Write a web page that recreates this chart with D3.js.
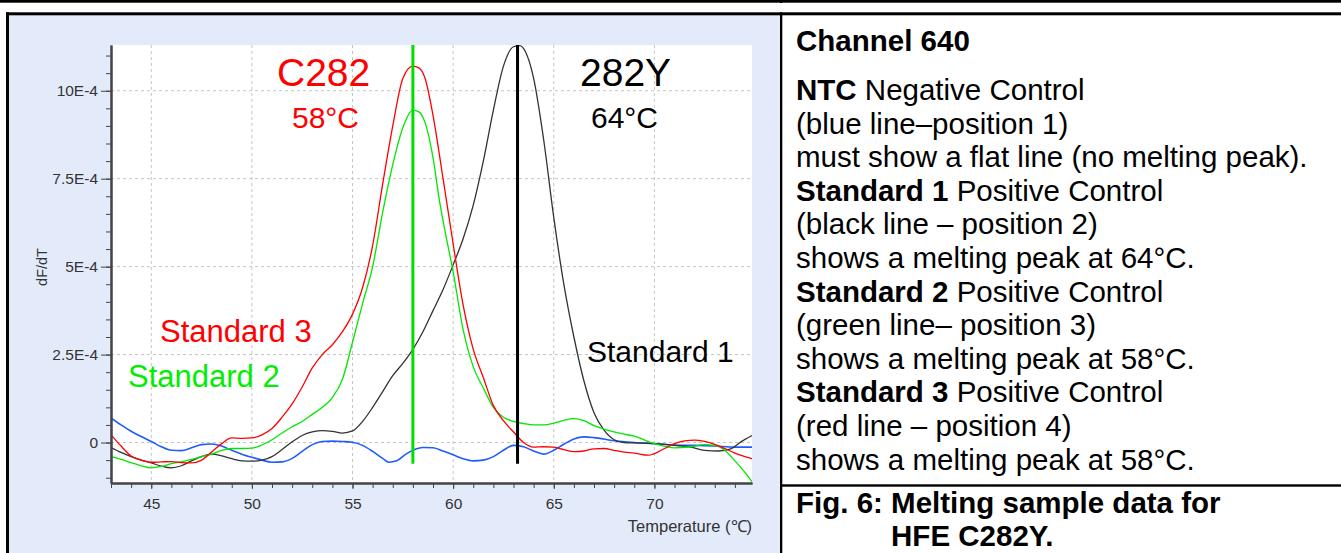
<!DOCTYPE html>
<html>
<head>
<meta charset="utf-8">
<script src="https://cdn.jsdelivr.net/npm/d3@7"></script>
<style>
  html, body { margin: 0; padding: 0; background: #fff; }
  svg { display: block; font-family: "Liberation Sans", Arial, sans-serif; }
</style>
</head>
<body>
<svg id="fig" width="1341" height="553"></svg>
<script>
// values in units of 1E-4 (dF/dT), temperature in degC
const ntc = [
  [43.0, 0.70], [43.5, 0.50], [44.0, 0.32], [44.5, 0.17], [45.0, 0.03], [45.5, -0.12],
  [46.0, -0.22], [46.5, -0.23], [47.0, -0.15], [47.5, -0.06], [48.0, -0.04], [48.5, -0.10],
  [49.0, -0.22], [49.5, -0.33], [50.0, -0.42], [50.5, -0.50], [51.0, -0.56], [51.5, -0.55],
  [52.0, -0.45], [52.5, -0.25], [53.0, -0.06], [53.5, 0.03], [54.0, 0.04], [54.5, 0.03],
  [55.0, 0.01], [55.5, -0.08], [56.0, -0.25], [56.5, -0.45], [56.8, -0.56], [57.2, -0.52],
  [57.6, -0.35], [58.0, -0.22], [58.5, -0.14], [59.0, -0.15], [59.5, -0.24], [60.0, -0.35],
  [60.5, -0.46], [61.0, -0.52], [61.5, -0.50], [62.0, -0.40], [62.5, -0.22], [63.0, -0.08],
  [63.5, -0.12], [64.0, -0.24], [64.5, -0.33], [65.0, -0.22], [65.5, -0.05], [66.0, 0.10],
  [66.5, 0.16], [67.0, 0.14], [68.0, 0.05], [69.0, 0.00], [70.0, -0.03], [71.0, -0.07],
  [72.0, -0.08], [73.0, -0.10], [74.0, -0.13], [74.85, -0.13]
];

const standard1 = [
  [43.0, -0.14], [43.5, -0.28], [44.0, -0.40], [44.5, -0.50], [45.0, -0.58], [45.5, -0.67],
  [46.0, -0.72], [46.5, -0.66], [47.0, -0.52], [47.5, -0.40], [48.0, -0.33], [48.5, -0.38],
  [49.0, -0.46], [49.5, -0.52], [50.0, -0.53], [50.5, -0.50], [51.0, -0.40], [51.5, -0.20],
  [52.0, 0.02], [52.5, 0.20], [53.0, 0.30], [53.5, 0.34], [54.0, 0.32], [54.5, 0.27],
  [55.0, 0.33], [55.5, 0.60], [56.0, 1.00], [56.5, 1.45], [57.0, 1.90], [57.5, 2.25],
  [58.0, 2.65], [58.5, 3.15], [59.0, 3.75], [59.5, 4.35], [60.0, 5.05], [60.5, 5.80],
  [61.0, 6.75], [61.5, 8.00], [62.0, 9.45], [62.5, 10.70], [63.0, 11.25], [63.3, 11.28],
  [63.6, 11.10], [64.0, 10.35], [64.5, 8.60], [65.0, 6.40], [65.5, 4.50], [66.0, 3.00],
  [66.5, 1.75], [67.0, 0.85], [67.5, 0.35], [68.0, 0.08], [68.5, 0.00], [69.0, -0.01],
  [70.0, -0.03], [71.0, -0.08], [71.8, -0.13], [72.5, -0.22], [73.2, -0.24], [73.8, -0.18],
  [74.3, 0.02], [74.85, 0.20]
];

const standard2 = [
  [43.0, -0.40], [43.5, -0.48], [44.0, -0.57], [44.5, -0.66], [45.0, -0.72], [45.5, -0.68],
  [46.0, -0.60], [46.5, -0.55], [47.0, -0.48], [47.5, -0.40], [48.0, -0.33], [48.5, -0.22],
  [49.0, -0.17], [49.5, -0.17], [50.0, -0.16], [50.5, -0.07], [51.0, 0.08], [51.5, 0.27],
  [52.0, 0.45], [52.5, 0.60], [53.0, 0.80], [53.5, 1.00], [54.0, 1.28], [54.5, 1.80],
  [55.0, 2.85], [55.5, 3.95], [56.0, 5.00], [56.5, 6.55], [57.0, 7.90], [57.5, 8.95],
  [58.0, 9.45], [58.3, 9.40], [58.6, 9.10], [59.0, 8.10], [59.3, 6.95], [59.6, 6.00],
  [60.0, 4.85], [60.5, 3.20], [61.0, 2.15], [61.5, 1.55], [62.0, 1.00], [62.5, 0.72],
  [63.0, 0.60], [63.5, 0.54], [64.0, 0.50], [64.5, 0.50], [65.0, 0.55], [65.5, 0.63],
  [66.0, 0.68], [66.5, 0.62], [67.0, 0.48], [67.5, 0.38], [68.0, 0.30], [68.5, 0.24],
  [69.0, 0.18], [70.0, -0.03], [71.0, -0.15], [71.8, -0.12], [72.5, -0.06], [73.0, -0.08],
  [73.5, -0.22], [74.0, -0.52], [74.5, -0.85], [74.85, -1.12]
];

const standard3 = [
  [43.0, 0.22], [43.5, -0.10], [44.0, -0.38], [44.5, -0.50], [45.0, -0.56], [45.5, -0.55],
  [46.0, -0.54], [46.5, -0.57], [47.0, -0.58], [47.5, -0.50], [48.0, -0.27], [48.5, -0.03],
  [49.0, 0.13], [49.5, 0.12], [50.0, 0.13], [50.5, 0.22], [51.0, 0.40], [51.5, 0.72],
  [52.0, 1.10], [52.5, 1.58], [53.0, 2.12], [53.5, 2.50], [54.0, 2.78], [54.5, 3.15],
  [55.0, 3.65], [55.5, 4.40], [56.0, 5.60], [56.5, 7.35], [57.0, 9.00], [57.5, 10.35],
  [58.0, 10.70], [58.3, 10.65], [58.6, 10.36], [59.0, 9.30], [59.5, 7.50], [60.0, 5.65],
  [60.5, 3.90], [61.0, 2.65], [61.5, 1.85], [62.0, 1.05], [62.5, 0.62], [63.0, 0.30],
  [63.5, 0.00], [64.0, -0.13], [64.5, -0.12], [65.0, -0.13], [65.5, -0.20], [66.0, -0.26],
  [66.5, -0.24], [67.0, -0.18], [67.5, -0.17], [68.0, -0.22], [68.5, -0.27], [69.0, -0.30],
  [69.7, -0.36], [70.5, -0.17], [71.0, -0.03], [71.5, 0.05], [72.0, 0.07], [72.5, 0.03],
  [73.0, -0.05], [73.5, -0.17], [74.0, -0.30], [74.85, -0.46]
];

const xMajorTicks = [45, 50, 55, 60, 65, 70];
const yMajorTicks = [0, 2.5, 5, 7.5, 10];
const yTickLabels = ["0", "2.5E-4", "5E-4", "7.5E-4", "10E-4"];
const peakTemps = [58, 63.2];

const svg = d3.select('svg#fig');

// frame / table lines
svg.append('rect').attr('x', 9).attr('y', 15).attr('width', 771).attr('height', 538).attr('fill', '#E3EBFB');
svg.append('rect').attr('x', 0).attr('y', 0).attr('width', 1341).attr('height', 2.7).attr('fill', '#000');
svg.append('rect').attr('x', 780).attr('y', 0).attr('width', 2.3).attr('height', 3).attr('fill', '#000');
svg.append('rect').attr('x', 6).attr('y', 12.3).attr('width', 1335).attr('height', 3).attr('fill', '#000');
svg.append('rect').attr('x', 6).attr('y', 12.3).attr('width', 3).attr('height', 541).attr('fill', '#000');
svg.append('rect').attr('x', 780).attr('y', 12.3).attr('width', 2.3).attr('height', 541).attr('fill', '#000');
svg.append('rect').attr('x', 780).attr('y', 484.3).attr('width', 561).attr('height', 2.4).attr('fill', '#000');

// chart
const xScale = d3.scaleLinear().domain([43, 74.85]).range([111, 752]);
const yScale = d3.scaleLinear().domain([-1.15, 11.3]).range([483, 45]);

svg.append('rect')
  .attr('x', 111).attr('y', 45)
  .attr('width', 752 - 111).attr('height', 483 - 45)
  .attr('fill', '#fff');

svg.append('clipPath').attr('id', 'plotclip')
  .append('rect').attr('x', 111).attr('y', 45).attr('width', 641).attr('height', 438);

// grid
svg.append('g').selectAll('line')
  .data(xMajorTicks)
  .enter()
  .append('line')
  .attr('x1', d => xScale(d)).attr('x2', d => xScale(d))
  .attr('y1', 45).attr('y2', 483)
  .attr('stroke', '#c4c4c4').attr('stroke-dasharray', '3,3');

svg.append('g').selectAll('line')
  .data(yMajorTicks)
  .enter()
  .append('line')
  .attr('x1', 111).attr('x2', 752)
  .attr('y1', d => yScale(d)).attr('y2', d => yScale(d))
  .attr('stroke', '#c4c4c4').attr('stroke-dasharray', '3,3');

// annotations in plot
const bigLabels = [
  { text: 'C282', x: 277, y: 86, size: 39, color: '#ff0000' },
  { text: '58°C', x: 292, y: 128, size: 30, color: '#ff0000' },
  { text: '282Y', x: 580, y: 86, size: 39, color: '#000' },
  { text: '64°C', x: 591, y: 128, size: 30, color: '#000' },
  { text: 'Standard 3', x: 160, y: 342, size: 31, color: '#ff0000' },
  { text: 'Standard 2', x: 128, y: 387, size: 31, color: '#00ee00' },
  { text: 'Standard 1', x: 587, y: 362, size: 30, color: '#000' }
];

// curves
const line = d3.line()
  .x(d => xScale(d[0]))
  .y(d => yScale(d[1]))
  .curve(d3.curveMonotoneX);

const series = [
  { data: ntc, color: '#1f5cff', width: 1.6 },
  { data: standard1, color: '#333333', width: 1.3 },
  { data: standard2, color: '#00e800', width: 1.3 },
  { data: standard3, color: '#ff0000', width: 1.3 }
];

svg.append('g')
  .attr('clip-path', 'url(#plotclip)')
  .selectAll('path')
  .data(series)
  .enter()
  .append('path')
  .attr('d', d => line(d.data))
  .attr('fill', 'none')
  .attr('stroke', d => d.color)
  .attr('stroke-width', d => d.width);

// peak markers
svg.append('g').selectAll('line')
  .data(peakTemps)
  .enter()
  .append('line')
  .attr('x1', d => xScale(d)).attr('x2', d => xScale(d))
  .attr('y1', yScale(11.3)).attr('y2', yScale(-0.6))
  .attr('stroke', (d, i) => i === 0 ? '#00dd00' : '#000')
  .attr('stroke-width', 3);

svg.append('g').selectAll('text')
  .data(bigLabels)
  .enter()
  .append('text')
  .attr('x', d => d.x).attr('y', d => d.y)
  .attr('font-size', d => d.size + 'px')
  .attr('fill', d => d.color)
  .text(d => d.text);

// axes
const axisColor = '#444';

const xMinor = svg.append('g')
  .attr('transform', 'translate(0,483)')
  .call(d3.axisBottom(xScale).tickValues(d3.range(43, 75, 1)).tickSize(5).tickSizeOuter(0).tickFormat(''));
const xMajor = svg.append('g')
  .attr('transform', 'translate(0,483)')
  .call(d3.axisBottom(xScale).tickValues(xMajorTicks).tickSize(6).tickSizeOuter(0).tickPadding(9));

const yMinor = svg.append('g')
  .attr('transform', 'translate(111,0)')
  .call(d3.axisLeft(yScale).tickValues(d3.range(-1, 11.01, 0.5)).tickSize(5).tickSizeOuter(0).tickFormat(''));
const yMajor = svg.append('g')
  .attr('transform', 'translate(111,0)')
  .call(d3.axisLeft(yScale).tickValues(yMajorTicks).tickSize(10).tickSizeOuter(0).tickPadding(3)
    .tickFormat((d, i) => yTickLabels[i]));

[xMinor, xMajor, yMinor, yMajor].forEach(g => {
  g.select('.domain').attr('stroke', axisColor).attr('stroke-width', 2);
  g.selectAll('.tick line').attr('stroke', axisColor);
  g.selectAll('.tick text')
    .attr('fill', '#333')
    .attr('font-size', '15.5px')
    .attr('font-family', '"Liberation Sans", Arial, sans-serif');
});

svg.append('text')
  .attr('x', 752).attr('y', 532)
  .attr('text-anchor', 'end')
  .attr('font-size', '16.5px')
  .attr('fill', '#333')
  .text('Temperature (℃)');

svg.append('text')
  .attr('transform', 'translate(47,267) rotate(-90)')
  .attr('text-anchor', 'middle')
  .attr('font-size', '14.5px')
  .attr('fill', '#333')
  .text('dF/dT');

// right panel text
const panelLines = [
  [['Channel 640', true]],
  [['NTC', true], [' Negative Control', false]],
  [['(blue line–position 1)', false]],
  [['must show a flat line (no melting peak).', false]],
  [['Standard 1', true], [' Positive Control', false]],
  [['(black line – position 2)', false]],
  [['shows a melting peak at 64°C.', false]],
  [['Standard 2', true], [' Positive Control', false]],
  [['(green line– position 3)', false]],
  [['shows a melting peak at 58°C.', false]],
  [['Standard 3', true], [' Positive Control', false]],
  [['(red line – position 4)', false]],
  [['shows a melting peak at 58°C.', false]]
];

const FONT = 29.5;
const panel = svg.append('g').attr('font-size', FONT + 'px').attr('fill', '#000');

panel.selectAll('text')
  .data(panelLines)
  .enter()
  .append('text')
  .attr('x', 796)
  .attr('y', (d, i) => i === 0 ? 51 : 100 + (i - 1) * 33.6)
  .each(function (d) {
    d3.select(this).selectAll('tspan')
      .data(d)
      .enter()
      .append('tspan')
      .attr('font-weight', p => p[1] ? 'bold' : 'normal')
      .style('white-space', 'pre')
      .text(p => p[0]);
  });

const cap = svg.append('g').attr('font-size', FONT + 'px').attr('font-weight', 'bold');
const capPrefix = cap.append('text').attr('x', 796).attr('y', 513).style('white-space', 'pre');
capPrefix.append('tspan').attr('class', 'pre').text('Fig. 6: ');
capPrefix.append('tspan').text('Melting sample data for');
const indent = capPrefix.select('tspan.pre').node().getComputedTextLength();
cap.append('text').attr('x', 796 + indent).attr('y', 546).text('HFE C282Y.');
</script>
</body>
</html>
